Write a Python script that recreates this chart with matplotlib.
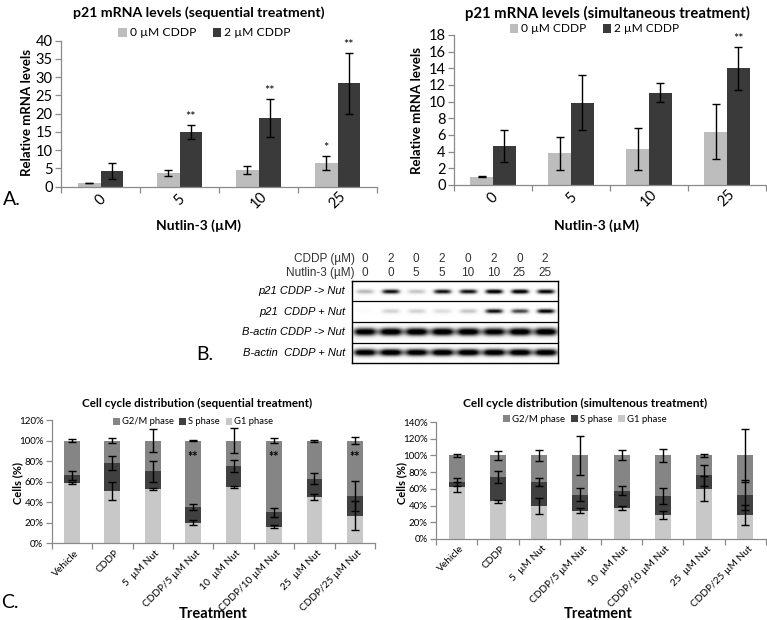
import numpy as np
import matplotlib
matplotlib.use('Agg')
import matplotlib.pyplot as plt

plt.rcParams['font.family'] = ['Lato', 'DejaVu Sans']

W, H = 767, 620

# --- Panel A data: p21 mRNA levels
nutlin = ['0', '5', '10', '25']
seq_0cddp = [1.0, 3.7, 4.6, 6.5]
seq_0cddp_err = [0.1, 0.8, 1.1, 1.8]
seq_2cddp = [4.3, 15.0, 18.8, 28.3]
seq_2cddp_err = [2.1, 2.0, 5.3, 8.4]
seq_stars = [(1, 1, '**'), (2, 1, '**'), (3, 0, '*'), (3, 1, '**')]

sim_0cddp = [1.0, 3.8, 4.3, 6.4]
sim_0cddp_err = [0.04, 1.95, 2.5, 3.3]
sim_2cddp = [4.7, 9.9, 11.1, 14.0]
sim_2cddp_err = [1.9, 3.3, 1.1, 2.6]
sim_stars = [(3, 1, '**')]

# --- Panel B data: western blot band intensities
cddp_um = ['0', '2', '0', '2', '0', '2', '0', '2']
nut_um = ['0', '0', '5', '5', '10', '10', '25', '25']
blot_rows = ['p21 CDDP -> Nut', 'p21  CDDP + Nut', 'B-actin CDDP -> Nut', 'B-actin  CDDP + Nut']
p21_seq = [0.35, 0.85, 0.3, 0.85, 0.85, 0.95, 0.95, 0.9]
p21_sim = [0.03, 0.25, 0.25, 0.2, 0.3, 0.85, 0.7, 0.9]
actin_seq = [0.97, 1.0, 1.0, 1.0, 1.0, 0.95, 1.0, 1.0]
actin_sim = [0.98, 1.0, 0.98, 1.0, 1.0, 1.0, 1.0, 1.0]

# --- Panel C data: cell cycle distribution (%)
treatments = ['Vehicle', 'CDDP', '5  µM Nut', 'CDDP/5 µM Nut', '10  µM Nut',
              'CDDP/10 µM Nut', '25  µM Nut', 'CDDP/25 µM Nut']
seq_g1 = [59, 51, 52.5, 20, 55, 16, 45, 27]
seq_s = [7, 27, 17.5, 15, 20, 14, 18, 19]
seq_g1_err = [1, 9, 1, 2.5, 1, 1.5, 3, 14]
seq_s_err = [4.5, 7, 10.5, 3, 6, 4.5, 5, 15]
seq_g2m_err = [1.5, 2.5, 11.5, 0.5, 12.5, 2, 1, 3.5]
seq_cc_stars = [3, 5, 7]

sim_g1 = [62, 45, 39, 34, 37, 29, 60, 29]
sim_s = [6, 29, 29, 19, 21, 22, 16, 24]
sim_g1_err = [6, 1.5, 9.5, 3, 2.5, 4.5, 15, 12]
sim_s_err = [5, 7, 5, 8, 5, 9.5, 12, 18]
sim_g2m_err = [1.5, 5.5, 7, 23, 6, 8, 1.5, 32]

light_c = '#bdbdbd'
dark_c = '#3a3a3a'
g2m_c = '#858585'
s_c = '#404040'
g1_c = '#c8c8c8'
axis_c = '#8a8a8a'

fig = plt.figure(figsize=(W / 100, H / 100), dpi=100)


def ax_px(l, t, r, b):
    return fig.add_axes([l / W, 1 - b / H, (r - l) / W, (b - t) / H])


def ftext(x, y, s, **kw):
    return fig.text(x / W, 1 - y / H, s, **kw)


def fit_text(x, y, s, width, fs=10, **kw):
    # centred text whose font size is scaled so it spans `width` px
    t = ftext(x, y, s, ha='center', va='center', fontsize=fs, **kw)
    fig.canvas.draw()
    t.set_fontsize(fs * width / t.get_window_extent().width)
    return t


def fit_legend(ax, handles, labels, left, right, y, ncol, gap, fs=10):
    kw = dict(loc='center left', bbox_to_anchor=(left / W, 1 - y / H),
              bbox_transform=fig.transFigure, ncol=ncol, frameon=False,
              handlelength=0.7, handleheight=0.7, handletextpad=0.25, columnspacing=gap,
              borderpad=0, borderaxespad=0)
    leg = ax.legend(handles, labels, fontsize=fs, **kw)
    fig.canvas.draw()
    fs2 = fs * (right - left) / leg.get_window_extent().width
    ax.legend(handles, labels, fontsize=fs2, **kw)


def excel_axes(ax, n, ymax, step, fmt=None, ysize=10):
    ax.set_xlim(0, n)
    ax.set_ylim(0, ymax)
    for sp in ['top', 'right']:
        ax.spines[sp].set_visible(False)
    for sp in ['left', 'bottom']:
        ax.spines[sp].set_color(axis_c)
        ax.spines[sp].set_linewidth(0.9)
    ax.set_xticks(np.arange(n + 1))
    ax.set_xticklabels([])
    yt = np.arange(0, ymax + 0.01, step)
    ax.set_yticks(yt)
    if fmt:
        ax.set_yticklabels([fmt % v for v in yt])
    ax.tick_params(axis='both', direction='out', length=4, color=axis_c, width=0.9)
    ax.tick_params(axis='y', labelsize=ysize, pad=2)


ekw = dict(ecolor='black', elinewidth=1, capsize=2.6, capthick=1)


def mrna_panel(ax, light, light_err, dark, dark_err, ymax, step, stars):
    excel_axes(ax, 4, ymax, step, ysize=10.5)
    x = np.arange(4) + 0.5
    bw = 0.29
    ax.bar(x - bw / 2, light, bw, color=light_c, yerr=light_err, error_kw=ekw,
           label='0 µM CDDP')
    ax.bar(x + bw / 2, dark, bw, color=dark_c, yerr=dark_err, error_kw=ekw,
           label='2 µM CDDP')
    for i, lab in enumerate(nutlin):
        ax.text(x[i], -0.09, lab, transform=ax.get_xaxis_transform(), rotation=45,
                ha='center', va='center', fontsize=10.5)
    for cat, ser, s in stars:
        vals, errs = (light, light_err) if ser == 0 else (dark, dark_err)
        xs = x[cat] + (bw / 2 if ser else -bw / 2)
        ax.annotate(s, (xs, vals[cat] + errs[cat]), xytext=(0, 1.5), textcoords='offset points',
                    ha='center', va='bottom', fontsize=9)
    return ax


ax1 = ax_px(61, 40.7, 377, 186.7)
mrna_panel(ax1, seq_0cddp, seq_0cddp_err, seq_2cddp, seq_2cddp_err, 40, 5, seq_stars)
ax2 = ax_px(454, 35, 766, 185)
mrna_panel(ax2, sim_0cddp, sim_0cddp_err, sim_2cddp, sim_2cddp_err, 18, 2, sim_stars)

for ax, l0, r0, cy, tx, tw, title, lx, ly, xx in [
        (ax1, 118, 290, 33, 198.5, 253, 'p21 mRNA levels (sequential treatment)', 27, 112, 199),
        (ax2, 510, 678, 29, 607.5, 285, 'p21 mRNA levels (simultaneous treatment)', 417, 110, 597)]:
    hh, ll = ax.get_legend_handles_labels()
    fit_legend(ax, hh, ll, l0, r0, cy, 2, 1.4)
    fit_text(tx, 13, title, tw, fontweight='bold')
    ftext(lx, ly, 'Relative mRNA levels', rotation=90, ha='center', va='center',
          fontsize=9.5, fontweight='bold')
    ftext(xx, 226, 'Nutlin-3 (µM)', ha='center', va='center', fontsize=10, fontweight='bold')

ftext(3, 200, 'A.', ha='left', va='center', fontsize=14)

# --- Panel B: western blot
ax3 = ax_px(351.7, 281, 558, 363)
xs = np.linspace(0, 8, 480)
ys = np.linspace(0, 4, 200)
X, Y = np.meshgrid(xs, ys)
img = np.zeros_like(X)
band_sets = [(p21_seq, 0.12, 0.36, 0.05), (p21_sim, 0.12, 0.36, 0.0),
             (actin_seq, 0.21, 0.47, 0.0), (actin_sim, 0.19, 0.47, 0.0)]
for r, (vals, sy, sx, dy) in enumerate(band_sets):
    for i, v in enumerate(vals):
        xc = i + 0.5
        yc = r + 0.5 + dy
        img += v * np.exp(-np.abs((X - xc) / sx) ** 4) * np.exp(-((Y - yc) / sy) ** 2)
img = np.clip(img * 1.15, 0, 1)
ax3.imshow(img, cmap='Greys', vmin=0, vmax=1, extent=(0, 8, 4, 0), aspect='auto',
           interpolation='bilinear')
ax3.set_xlim(0, 8)
ax3.set_ylim(4, 0)
for yl in [1, 2, 3]:
    ax3.axhline(yl, color='black', lw=0.9)
for sp in ax3.spines.values():
    sp.set_linewidth(1)
ax3.set_xticks([])
ax3.set_yticks([])
for i in range(8):
    ax3.text(i + 0.5, -1.07, cddp_um[i], ha='center', va='center', fontsize=8.5,
             family='Liberation Sans', color='#333333')
    ax3.text(i + 0.5, -0.39, nut_um[i], ha='center', va='center', fontsize=8.5,
             family='Liberation Sans', color='#333333')
ftext(355, 259, 'CDDP (µM)', ha='right', va='center', fontsize=8.5,
      family='Liberation Sans', color='#333333')
ftext(355, 273, 'Nutlin-3 (µM)', ha='right', va='center', fontsize=8.5,
      family='Liberation Sans', color='#333333')
for r, lab in enumerate(blot_rows):
    ftext(345, 281 + (r + 0.5) * 20.5, lab, ha='right', va='center', fontsize=8,
          family='Liberation Sans', style='italic')
ftext(196, 354, 'B.', ha='left', va='center', fontsize=14)


# --- Panel C: cell cycle
def cc_panel(ax, g1, s, g1_err, s_err, g2m_err, ymax, stars):
    excel_axes(ax, 8, ymax, 20, fmt='%d%%', ysize=7)
    x = np.arange(8) + 0.5
    bw = 0.39
    g1 = np.array(g1, float)
    s = np.array(s, float)
    g2m = 100 - g1 - s
    ax.bar(x, g1, bw, color=g1_c, label='G1 phase')
    ax.bar(x, s, bw, bottom=g1, color=s_c, label='S phase')
    ax.bar(x, g2m, bw, bottom=g1 + s, color=g2m_c, label='G2/M phase')
    for yv, ev in [(g1, g1_err), (g1 + s, s_err), (g1 + s + g2m, g2m_err)]:
        ax.errorbar(x, yv, yerr=ev, fmt='none', **ekw)
    for i, lab in enumerate(treatments):
        ax.annotate(lab, (x[i], 0), xycoords=('data', 'axes fraction'), xytext=(4, -6),
                    textcoords='offset points', rotation=45, ha='right', va='center',
                    rotation_mode='anchor', fontsize=7.3)
    for i in stars:
        ax.text(x[i], 84, '**', ha='center', va='center', fontsize=9, fontweight='bold')
    h, l = ax.get_legend_handles_labels()
    return h[::-1], l[::-1]


ax4 = ax_px(51.7, 420, 375, 543.3)
hl4 = cc_panel(ax4, seq_g1, seq_s, seq_g1_err, seq_s_err, seq_g2m_err, 120, seq_cc_stars)
ax5 = ax_px(436, 422, 766, 539)
hl5 = cc_panel(ax5, sim_g1, sim_s, sim_g1_err, sim_s_err, sim_g2m_err, 140, [])

for ax, (hh, ll), l0, r0, cy, tx, tw, title, lx, xx in [
        (ax4, hl4, 113, 273, 422, 197, 229, 'Cell cycle distribution (sequential treatment)', 18, 213),
        (ax5, hl5, 503, 668, 419, 585, 244, 'Cell cycle distribution (simultenous treatment)', 402, 598)]:
    fit_legend(ax, hh, ll, l0, r0, cy, 3, 0.6)
    fit_text(tx, 403, title, tw, fontweight='bold')
    ftext(lx, 483, 'Cells (%)', rotation=90, ha='center', va='center', fontsize=8,
          fontweight='bold')
    ftext(xx, 614, 'Treatment', ha='center', va='center', fontsize=10.5, fontweight='bold')

ftext(1, 602, 'C.', ha='left', va='center', fontsize=14)

fig.savefig('out.png', dpi=100)
